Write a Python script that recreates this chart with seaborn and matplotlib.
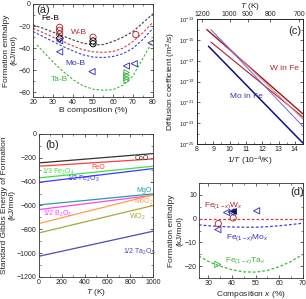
import numpy as np
import pandas as pd
import seaborn as sns
import matplotlib.pyplot as plt
from matplotlib.ticker import AutoMinorLocator, NullFormatter, FixedLocator

sns.set_style("ticks")
plt.rcParams['font.family'] = ['Liberation Sans', 'DejaVu Sans']
plt.rcParams['mathtext.fontset'] = 'custom'
plt.rcParams['mathtext.rm'] = 'Liberation Sans'
plt.rcParams['mathtext.it'] = 'Liberation Sans:italic'
plt.rcParams['mathtext.default'] = 'regular'

# ---- (a) boride formation enthalpy ----
a_x = [20, 25, 30, 35, 40, 45, 50, 55, 60, 65, 70, 75, 80]
a_feb = [-19, -22, -25.5, -29, -32.5, -35.5, -37, -36.8, -34, -30, -25, -17, -9]
a_wb = [-22, -26, -30, -34, -38, -41.5, -43.3, -43.8, -43, -40, -34, -26, -16.5]
a_mob = [-25, -29.5, -34, -38.5, -42.5, -46, -48, -48.5, -47.5, -45, -40, -32, -22]
a_tab_x = [22, 25, 30, 35, 40, 45, 50, 55, 60, 65, 70, 75, 80]
a_tab = [-37, -43, -52.5, -61, -68.5, -74, -77, -78, -77.5, -73.5, -65, -49, -33]

pts_feb_x = [50, 50]
pts_feb_y = [-33.5, -36]
pts_feb_d_x = [33.3]
pts_feb_d_y = [-31]
pts_wb_x = [33.3, 33.3, 33.3, 50, 71.4]
pts_wb_y = [-21.2, -23.9, -27.2, -30.1, -27.7]
pts_mob_x = [33.3, 33.3, 49.5, 66.7, 70.6, 79]
pts_mob_y = [-33.3, -43.3, -61.2, -56.1, -54, -35.2]
pts_tab_x = [66.8, 66.8, 66.8, 66.8]
pts_tab_y = [-62, -64.5, -67, -69.5]

# ---- (b) Ellingham lines ----
b_T = [0, 1000]
b_names = ['CoO', 'FeO', '1/3 Fe$_3$O$_4$', '1/2 Fe$_2$O$_3$', 'MgO',
           '1/2 B$_2$O$_3$', 'MoO$_2$', 'WO$_2$', '1/2 Ta$_2$O$_5$']
b_G0 = [-243, -271, -369, -406, -596, -635, -752, -831, -1027]
b_G1000 = [-165, -210, -271, -291, -503, -515, -512, -601, -817]
b_colors = ['#333333', '#ff3b3b', '#3ee03e', '#3a3aff', '#2a9d9d',
            '#ff40ff', '#ffa040', '#a8a838', '#4a4ab8']
b_lab_x = [840, 460, 30, 250, 855, 40, 830, 790, 740]
b_lab_y = [-205, -280, -318, -380, -478, -672, -568, -700, -992]

# ---- (c) diffusion ----
c_invT_w1 = [8.6, 14.5]
c_logD_w1 = [-14.0, -22.1]
c_invT_w2 = [8.85, 14.5]
c_logD_w2 = [-15.2, -22.4]
c_invT_w3 = [9.2, 14.5]
c_logD_w3 = [-14.6, -22.6]
c_invT_mo1 = [8.7, 14.5]
c_logD_mo1 = [-15.6, -24.9]
c_invT_mo2 = [8.85, 14.5]
c_logD_mo2 = [-14.0, -23.3]
c_top_T = [1200, 1000, 900, 800, 700]

# ---- (d) Fe alloys ----
d_x = [26, 30, 35, 40, 45, 50, 55, 60, 65, 70]
d_w = [0, 0, 0, 0, 0, 0, 0, 0, 0, 0]
d_mo = [-2.6, -3.0, -3.3, -3.5, -3.6, -3.6, -3.4, -3.0, -2.5, -1.9]
d_ta = [-15.7, -18, -20, -21.5, -22.4, -22.5, -21.8, -20.2, -18, -15]
dp_w_x = [34.2, 40.5]
dp_w_y = [-2.1, 0.3]
dp_mo_x = [37.7, 39.6, 50.4, 34.0]
dp_mo_y = [2.6, 2.8, 3.3, -4.6]
dp_mof_x = [40.5]
dp_mof_y = [3.1]
dp_ta_x = [34.0]
dp_ta_y = [-19.3]

RED = '#b02828'
BLUE = '#3535b5'
GREEN = '#3cb83c'
GRAY = '#404040'
DASH = (0, (2.2, 1.6))
fs_tick = 5
fs_lab = 6
fs_txt = 6
fs_pan = 8


def style(ax):
    ax.tick_params(direction='in', top=True, right=True, labelsize=fs_tick,
                   length=2.5, width=0.5, pad=1.5)
    ax.tick_params(which='minor', direction='in', top=True, right=True,
                   length=1.3, width=0.4)
    for s in ax.spines.values():
        s.set_linewidth(0.6)
        s.set_color('#333333')


def hollow(ax, x, y, marker, color, size=20):
    sns.scatterplot(x=x, y=y, ax=ax, marker=marker, s=size, linewidth=0.65, zorder=3)
    pts = ax.collections[-1]
    pts.set_facecolor('none')
    pts.set_edgecolor(color)


fig = plt.figure(figsize=(3.06, 2.99), dpi=100)

# (a)
ax = fig.add_axes([0.108, 0.676, 0.392, 0.311])
sns.lineplot(x=a_x, y=a_feb, ax=ax, color=GRAY, lw=0.8, linestyle=DASH)
sns.lineplot(x=a_x, y=a_wb, ax=ax, color='#d04040', lw=0.8, linestyle=DASH)
sns.lineplot(x=a_x, y=a_mob, ax=ax, color='#4040d0', lw=0.8, linestyle=DASH)
sns.lineplot(x=a_tab_x, y=a_tab, ax=ax, color=GREEN, lw=0.8, linestyle=DASH)
hollow(ax, pts_wb_x, pts_wb_y, 'o', RED)
hollow(ax, pts_feb_x, pts_feb_y, 'o', 'black')
hollow(ax, pts_feb_d_x, pts_feb_d_y, 'D', 'black', 14)
hollow(ax, pts_mob_x, pts_mob_y, '<', BLUE)
hollow(ax, pts_tab_x, pts_tab_y, '>', GREEN, 16)
ax.set_xlim(20, 80)
ax.set_ylim(-84, 0)
ax.set_xticks([20, 30, 40, 50, 60, 70, 80])
ax.set_yticks([0, -20, -40, -60, -80])
ax.xaxis.set_minor_locator(AutoMinorLocator(2))
ax.yaxis.set_minor_locator(AutoMinorLocator(2))
style(ax)
ax.set_xlabel('B composition (%)', fontsize=fs_lab, labelpad=1)
ax.set_ylabel('Formation enthalpy\n(kJ/mol)', fontsize=fs_lab, labelpad=1)
ax.text(21.5, -8, '(a)', fontsize=fs_pan)
ax.text(24, -14.5, 'Fe-B', fontsize=fs_txt, color='black')
ax.text(39, -27, 'W-B', fontsize=fs_txt, color=RED)
ax.text(36, -55, 'Mo-B', fontsize=fs_txt, color=BLUE)
ax.text(29, -70, 'Ta-B', fontsize=fs_txt, color=GREEN)

# (b)
ax = fig.add_axes([0.127, 0.074, 0.373, 0.478])
for name, g0, g1, col, lx, ly in zip(b_names, b_G0, b_G1000, b_colors, b_lab_x, b_lab_y):
    sns.lineplot(x=b_T, y=[g0, g1], ax=ax, color=col, lw=0.9)
    ax.text(lx, ly, name, fontsize=5, color=col, va='center')
ax.set_xlim(0, 1000)
ax.set_ylim(-1200, 0)
ax.set_xticks([0, 200, 400, 600, 800, 1000])
ax.set_yticks([0, -200, -400, -600, -800, -1000, -1200])
ax.xaxis.set_minor_locator(AutoMinorLocator(2))
ax.yaxis.set_minor_locator(AutoMinorLocator(2))
style(ax)
ax.set_xlabel('$\\it{T}$ (K)', fontsize=fs_lab, labelpad=1)
ax.set_ylabel('Standard Gibbs Energy of Formation\n(kJ/mol)', fontsize=fs_lab, labelpad=1)
ax.text(60, -120, '(b)', fontsize=fs_pan)

# (c)
ax = fig.add_axes([0.644, 0.518, 0.346, 0.418])
for xs, ls_, col, lw in [(c_invT_w1, c_logD_w1, '#9a1a1a', 1.0),
                         (c_invT_w2, c_logD_w2, '#b02020', 0.8),
                         (c_invT_w3, c_logD_w3, '#e08080', 0.7),
                         (c_invT_mo2, c_logD_mo2, '#6a6ae0', 0.7),
                         (c_invT_mo1, c_logD_mo1, '#101080', 1.1)]:
    sns.lineplot(x=xs, y=[10.0 ** v for v in ls_], ax=ax, color=col, lw=lw)
ax.set_yscale('log')
ax.set_xlim(8, 14.5)
ax.set_ylim(1e-25, 1e-13)
ax.set_xticks([8, 9, 10, 11, 12, 13, 14])
ax.yaxis.set_major_locator(FixedLocator([10.0 ** e for e in range(-25, -12, 2)]))
ax.yaxis.set_minor_locator(FixedLocator([10.0 ** e for e in range(-24, -12, 2)]))
ax.yaxis.set_minor_formatter(NullFormatter())
ax.xaxis.set_minor_locator(AutoMinorLocator(2))
style(ax)
ax.tick_params(top=False)
ax.tick_params(which='minor', top=False)
ax.tick_params(axis='y', labelsize=4.3)
ax.set_xlabel('1/$\\it{T}$ (10$^{-4}$/K)', fontsize=fs_lab, labelpad=1)
ax.set_ylabel('Diffusion coefficient (m$^2$/s)', fontsize=fs_lab, labelpad=1)
ax.text(12.45, 10 ** -17.9, 'W in Fe', fontsize=fs_txt, color=RED)
ax.text(10.0, 10 ** -20.6, 'Mo in Fe', fontsize=fs_txt, color=BLUE)
ax.text(13.6, 10 ** -14.4, '(c)', fontsize=fs_pan)
top = ax.twiny()
top.set_xlim(8, 14.5)
top.set_xticks([1e4 / t for t in c_top_T])
top.set_xticklabels([str(t) for t in c_top_T])
top.tick_params(direction='in', labelsize=fs_tick, length=2.5, width=0.5, pad=1)
top.set_xlabel('$\\it{T}$ (K)', fontsize=fs_lab, labelpad=2)
for s in top.spines.values():
    s.set_linewidth(0.6)

# (d)
ax = fig.add_axes([0.650, 0.070, 0.340, 0.318])
sns.lineplot(x=d_x, y=d_w, ax=ax, color='#d04040', lw=0.9, linestyle=DASH)
sns.lineplot(x=d_x, y=d_mo, ax=ax, color='#4040d0', lw=0.9, linestyle=DASH)
sns.lineplot(x=d_x, y=d_ta, ax=ax, color=GREEN, lw=0.9, linestyle=DASH)
hollow(ax, dp_mo_x, dp_mo_y, '<', BLUE)
sns.scatterplot(x=dp_mof_x, y=dp_mof_y, ax=ax, marker='<', s=18, color='#101080',
                edgecolor='#101080', linewidth=0.6, zorder=3)
hollow(ax, dp_w_x, dp_w_y, 'o', RED)
hollow(ax, dp_ta_x, dp_ta_y, '>', GREEN)
ax.set_xlim(26, 70)
ax.set_ylim(-25, 15)
ax.set_xticks([30, 40, 50, 60, 70])
ax.set_yticks([10, 0, -10, -20])
ax.xaxis.set_minor_locator(AutoMinorLocator(2))
ax.yaxis.set_minor_locator(AutoMinorLocator(2))
style(ax)
ax.set_xlabel('Composition $\\it{x}$ (%)', fontsize=fs_lab, labelpad=1)
ax.set_ylabel('Formation enthalpy\n(kJ/mol)', fontsize=fs_lab, labelpad=1)
ax.text(28, 5, 'Fe$_{(1-\\it{x})}$W$_{\\it{x}}$', fontsize=fs_txt, color=RED)
ax.text(37.5, -8.5, 'Fe$_{(1-\\it{x})}$Mo$_{\\it{x}}$', fontsize=fs_txt, color=BLUE)
ax.text(37, -18, 'Fe$_{(1-\\it{x})}$Ta$_{\\it{x}}$', fontsize=fs_txt, color=GREEN)
ax.text(64.5, 10, '(d)', fontsize=fs_pan)

fig.savefig('out.png', dpi=100)
